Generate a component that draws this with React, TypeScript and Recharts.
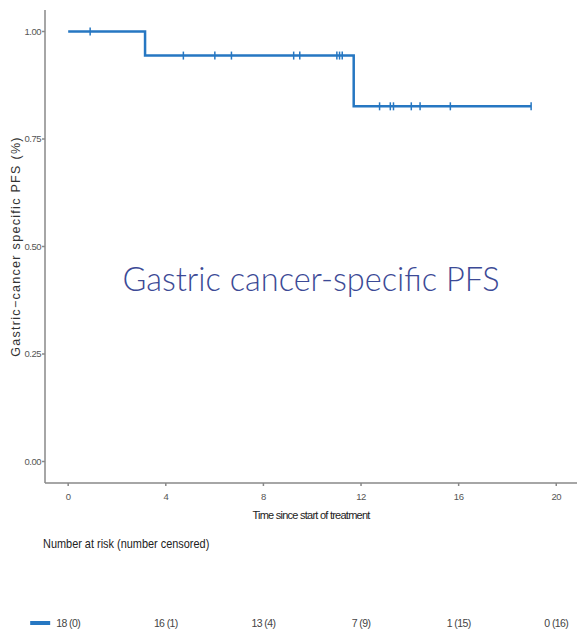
import { LineChart, Line, XAxis, YAxis } from 'recharts'

// Kaplan-Meier estimate: time (months), survival, and whether the row is a censoring
const times = [0, 0.9, 3.15, 4.72, 6.01, 6.69, 9.24, 9.49, 11.01, 11.12, 11.23, 11.7, 12.76, 13.2, 13.33, 14.06, 14.42, 15.66, 18.97];
const survival = [1, 1, 0.944, 0.944, 0.944, 0.944, 0.944, 0.944, 0.944, 0.944, 0.944, 0.826, 0.826, 0.826, 0.826, 0.826, 0.826, 0.826, 0.826];
const censored = [false, true, false, true, true, true, true, true, true, true, true, false, true, true, true, true, true, true, true];

const xTicks = [0, 4, 8, 12, 16, 20];
const yTicks = [0, 0.25, 0.5, 0.75, 1];

// risk table under the plot
const riskTimes = [0, 4, 8, 12, 16, 20];
const atRisk = [18, 16, 13, 7, 1, 0];
const nCensored = [0, 1, 4, 9, 15, 16];

const BLUE = '#2677c2';
const SANS = "Arial, 'Liberation Sans', sans-serif";
const X_DOMAIN: [number, number] = [-0.95, 20.85];

const data = times.map((t, i) => ({ t, s: survival[i], censored: censored[i] }));

const CensorMark = (props: any) => {
  const { cx, cy, payload, index } = props;
  if (!payload.censored) return <g key={index} />;
  return <line key={index} x1={cx} x2={cx} y1={cy - 4} y2={cy + 4} stroke={BLUE} strokeWidth={1.5} />;
};

const RiskTick = (props: any) => {
  const { x, y, index } = props;
  const ty = y + 93;
  return (
    <g>
      {index === 0 && <line x1={x - 38} x2={x - 18} y1={ty} y2={ty} stroke={BLUE} strokeWidth={4} />}
      <text x={x} y={ty} textAnchor="middle" dominantBaseline="central" fontSize={10.5} letterSpacing={-0.6} fill="#444" fontFamily={SANS}>
        {`${atRisk[index]} (${nCensored[index]})`}
      </text>
    </g>
  );
};

export default function App() {
  return (
    <div style={{ position: 'absolute', left: 0, top: 0, width: 578, height: 642, background: '#fff' }}>
      <LineChart width={578} height={642} data={data} margin={{ top: 10, right: 1, left: 0, bottom: 0 }}>
        <XAxis
          dataKey="t"
          type="number"
          domain={X_DOMAIN}
          allowDataOverflow
          ticks={xTicks}
          height={47}
          stroke="#888"
          strokeWidth={1.5}
          tickSize={3}
          tickMargin={7}
          tick={{ fontSize: 9.5, fill: '#555', fontFamily: SANS, letterSpacing: -0.5 }}
          label={{ value: 'Time since start of treatment', position: 'insideBottom', offset: 11, fontSize: 11, fill: '#222', fontFamily: SANS, letterSpacing: -0.75 }}
        />
        <XAxis
          xAxisId="risk"
          dataKey="t"
          type="number"
          domain={X_DOMAIN}
          allowDataOverflow
          ticks={riskTimes}
          height={112}
          axisLine={false}
          tickLine={false}
          tickSize={0}
          tickMargin={0}
          tick={<RiskTick />}
        />
        <YAxis
          type="number"
          domain={[-0.05, 1.05]}
          ticks={yTicks}
          width={45}
          stroke="#888"
          strokeWidth={1.5}
          tickSize={3}
          tickMargin={1}
          tickFormatter={(v: number) => v.toFixed(2)}
          tick={{ fontSize: 9.5, fill: '#555', fontFamily: SANS, letterSpacing: -0.5 }}
          label={{
            value: 'Gastric\u2212cancer specific PFS (%)',
            angle: -90,
            position: 'insideLeft',
            offset: 16,
            fontSize: 12.5,
            fill: '#333',
            fontFamily: SANS,
            letterSpacing: 1.3,
            style: { textAnchor: 'middle' },
          }}
        />
        <Line
          type="stepAfter"
          dataKey="s"
          stroke={BLUE}
          strokeWidth={2.5}
          dot={CensorMark}
          activeDot={false}
          isAnimationActive={false}
        />
      </LineChart>
      <div style={{ position: 'absolute', left: 45, width: 532, top: 261, textAlign: 'center', fontFamily: 'Lato, sans-serif', fontWeight: 300, fontSize: 32.5, lineHeight: '36px', color: '#3c4a96' }}>
        Gastric cancer-specific PFS
      </div>
      <div style={{ position: 'absolute', left: 43, top: 536, fontFamily: SANS, fontSize: 13, lineHeight: '16px', color: '#222', transform: 'scaleX(0.84)', transformOrigin: 'left top', whiteSpace: 'nowrap' }}>
        Number at risk (number censored)
      </div>
    </div>
  );
}
